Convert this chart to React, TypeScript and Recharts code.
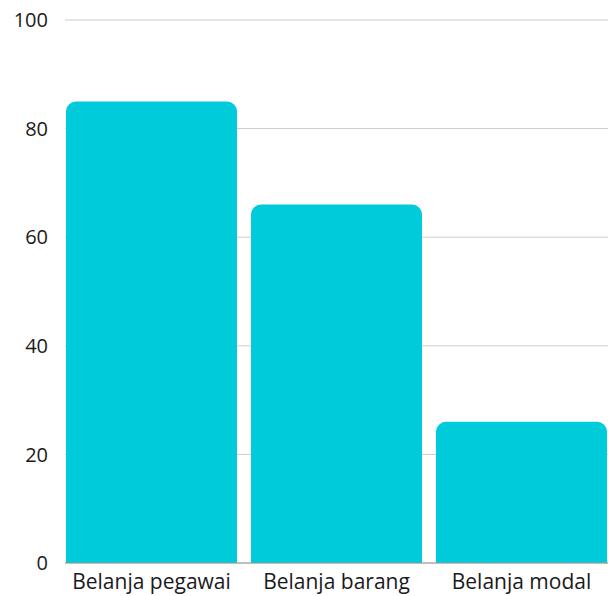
import { BarChart, Bar, XAxis, YAxis, CartesianGrid } from "recharts";

const categories = ["Belanja pegawai", "Belanja barang", "Belanja modal"];
const values = [85, 66, 26];
const yTicks = [0, 20, 40, 60, 80, 100];

const data = categories.map((name, i) => ({ name, value: values[i] }));

export default function App() {
  return (
    <div style={{ position: "absolute", left: 0, top: 0, width: 608, height: 596 }}>
      <BarChart
        width={608}
        height={596}
        data={data}
        margin={{ top: 20, right: 0, bottom: 3, left: 0 }}
        barCategoryGap={7}
        style={{ fontFamily: "'Open Sans', sans-serif" }}
      >
        <CartesianGrid vertical={false} stroke="#cccccc" />
        <XAxis
          dataKey="name"
          padding={{ left: -6, right: -6 }}
          tickLine={false}
          tickSize={0}
          tickMargin={11}
          height={30}
          stroke="#999999"
          tick={{ fill: "#1a1a1a", fontSize: 21 }}
        />
        <YAxis
          domain={[0, 100]}
          ticks={yTicks}
          axisLine={false}
          tickLine={false}
          tickSize={0}
          tickMargin={17}
          width={65}
          tick={{ fill: "#1a1a1a", fontSize: 20 }}
        />
        <Bar dataKey="value" fill="#00CBDB" radius={[10, 10, 0, 0]} isAnimationActive={false} />
      </BarChart>
    </div>
  );
}
